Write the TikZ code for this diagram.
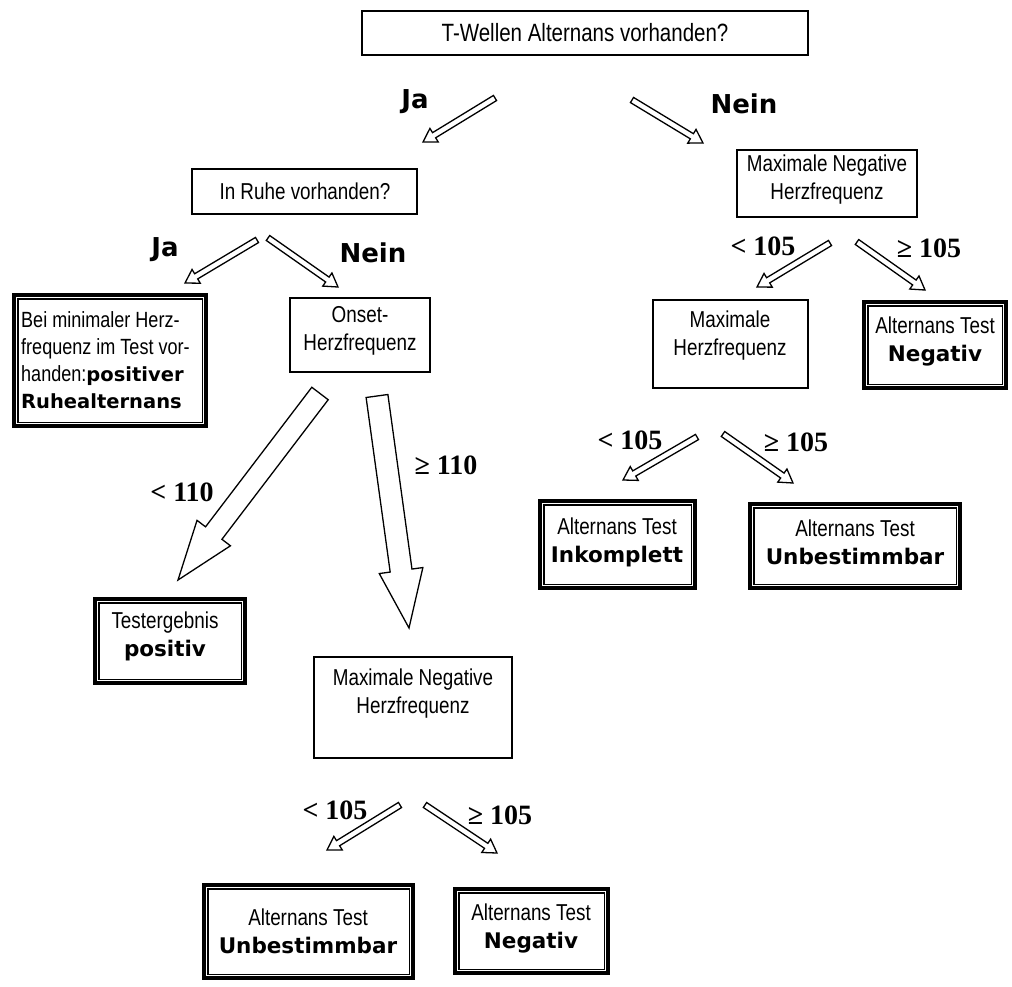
\documentclass[tikz,border=0pt]{standalone}
\usepackage{fontspec}
\usetikzlibrary{calc}
\newfontfamily\nar[FakeStretch=0.82]{Liberation Sans}
\newfontfamily\bld{DejaVu Sans}
\newfontfamily\ser{Liberation Serif}
\newcommand{\blkarrow}[5]{%
  \coordinate (hb) at ($(#2)!#5!(#1)$);
  \draw[blk] ($(#1)!#3!90:(#2)$) -- ($(hb)!#3!-90:(#1)$) -- ($(hb)!#4!-90:(#1)$) -- (#2)
    -- ($(hb)!#4!90:(#1)$) -- ($(hb)!#3!90:(#1)$) -- ($(#1)!#3!-90:(#2)$) -- cycle;
}
\newcommand{\bt}[1]{{\bld\bfseries\fontsize{21.5}{28}\selectfont #1}}
\begin{document}
\begin{tikzpicture}[x=1pt,y=-1pt,
  pbox/.style={draw, line width=1.2pt, inner sep=0pt},
  res/.style={draw, line width=4.2pt, inner sep=0pt},
  inner/.style={draw, line width=1.2pt},
  txt/.style={font=\nar\fontsize{23}{28}\selectfont, align=center, inner sep=0pt},
  yn/.style={font=\bld\bfseries\fontsize{26}{30}\selectfont, inner sep=0pt},
  num/.style={font=\ser\bfseries\fontsize{28}{30}\selectfont, inner sep=0pt},
  blk/.style={draw, fill=white, line width=1.3pt, line join=miter}]
\useasboundingbox (0,0) rectangle (1012,986);

% ---- plain boxes
\node[pbox, minimum width=446pt, minimum height=44pt] (q1) at (585,33) {};
\node[txt, font=\nar\fontsize{25}{28}\selectfont] (q1t) at (q1.center) {T-Wellen Alternans vorhanden?};
\node[pbox, minimum width=225pt, minimum height=45pt] (q2) at (304.5,191.5) {};
\node[txt] (q2t) at (305,191) {In Ruhe vorhanden?};
\node[pbox, minimum width=180pt, minimum height=67pt] (mnh1) at (827,183.5) {};
\node[txt] (mnh1t) at (827,180) {Maximale Negative\\Herzfrequenz};
\node[pbox, minimum width=140pt, minimum height=74pt] (onset) at (360,335) {};
\node[txt] (onsett) at (360,331) {Onset-\\Herzfrequenz};
\node[pbox, minimum width=155pt, minimum height=88pt] (mh) at (730.5,344) {};
\node[txt] (mht) at (730,336) {Maximale\\Herzfrequenz};
\node[pbox, minimum width=198pt, minimum height=101pt] (mnh2) at (413,707.5) {};
\node[txt] (mnh2t) at (413,694) {Maximale Negative\\Herzfrequenz};

% ---- result boxes (double frame)
\node[res, minimum width=192pt, minimum height=131pt] (bei) at (110,360.5) {};
\node[res, minimum width=142pt, minimum height=86pt] (negR) at (935,345) {};
\node[res, minimum width=155pt, minimum height=87pt] (ink) at (617.5,544.5) {};
\node[res, minimum width=210pt, minimum height=84pt] (unbR) at (855,546) {};
\node[res, minimum width=150pt, minimum height=84pt] (test) at (170,641) {};
\node[res, minimum width=209pt, minimum height=93pt] (unbL) at (308.5,931.5) {};
\node[res, minimum width=153pt, minimum height=84pt] (negL) at (531.5,931) {};
\foreach \b in {bei,negR,ink,unbR,test,unbL,negL}
  \draw[inner] ($(\b.north west)+(6,6)$) rectangle ($(\b.south east)+(-6,-6)$);

\node[txt, font=\nar\fontsize{22}{27}\selectfont, align=left, anchor=north west] (beit) at (21,311)
  {Bei minimaler Herz-\\frequenz im Test vor-\\handen:{\bld\bfseries\fontsize{19.5}{27}\selectfont positiver}\\{\bld\bfseries\fontsize{19.5}{27}\selectfont Ruhealternans}};
\node[txt] (negRt) at (935,341) {Alternans Test\\\bt{Negativ}};
\node[txt] (inkt) at (617,542) {Alternans Test\\\bt{Inkomplett}};
\node[txt] (unbRt) at (855,542) {Alternans Test\\\bt{Unbestimmbar}};
\node[txt] (testt) at (165,636) {Testergebnis\\\bt{positiv}};
\node[txt] (unbLt) at (308,931) {Alternans Test\\\bt{Unbestimmbar}};
\node[txt] (negLt) at (531,928) {Alternans Test\\\bt{Negativ}};

% ---- labels
\node[yn] (ja1) at (415,102) {Ja};
\node[yn] (nein1) at (744,104) {Nein};
\node[yn] (ja2) at (165,250) {Ja};
\node[yn] (nein2) at (373,253) {Nein};
\node[num] (l105a) at (763,246) {< 105};
\node[num] (g105a) at (929,248) {≥ 105};
\node[num] (l105b) at (630,440) {< 105};
\node[num] (g105b) at (796,442) {≥ 105};
\node[num] (l110) at (182,492) {< 110};
\node[num] (g110) at (446,465) {≥ 110};
\node[num] (l105c) at (335,810) {< 105};
\node[num] (g105c) at (500,815) {≥ 105};

% ---- arrow end points
\coordinate (a1s) at (495,98);  \coordinate (a1e) at (423,142);
\coordinate (a2s) at (632,100); \coordinate (a2e) at (703,143);
\coordinate (a3s) at (257,240); \coordinate (a3e) at (185,283);
\coordinate (a4s) at (268,238); \coordinate (a4e) at (338,287);
\coordinate (a5s) at (830,243); \coordinate (a5e) at (757,287);
\coordinate (a6s) at (857,242); \coordinate (a6e) at (925,290);
\coordinate (a7s) at (697,437); \coordinate (a7e) at (623,480);
\coordinate (a8s) at (723,434); \coordinate (a8e) at (793,483);
\coordinate (a9s) at (400,805); \coordinate (a9e) at (327,850);
\coordinate (a10s) at (425,805); \coordinate (a10e) at (497,853);
\coordinate (b1s) at (320,393.5); \coordinate (b1e) at (178,580);
\coordinate (b2s) at (377,396); \coordinate (b2e) at (409,628);

\foreach \a in {a1,a2,a3,a4,a5,a6,a7,a8,a9,a10}
  \blkarrow{\a s}{\a e}{3pt}{8pt}{13pt};
\blkarrow{b1s}{b1e}{10.3pt}{21pt}{59pt}
\blkarrow{b2s}{b2e}{11pt}{22pt}{58pt}
\end{tikzpicture}
\end{document}
